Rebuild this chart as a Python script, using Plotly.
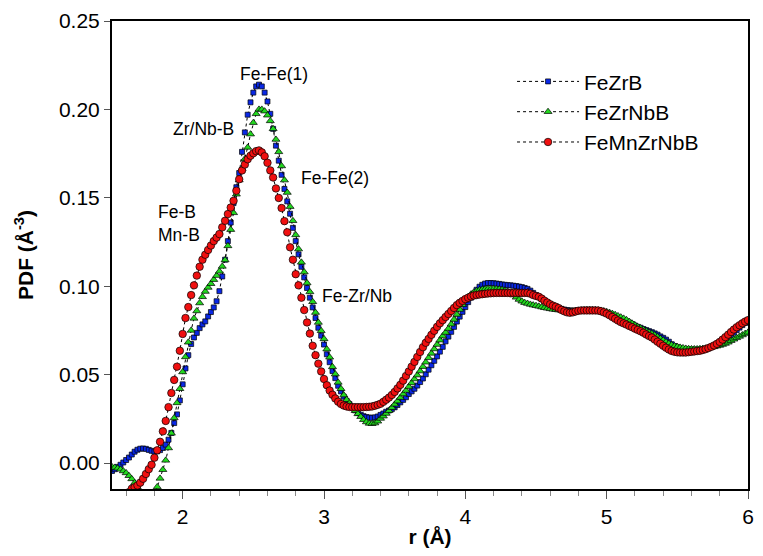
import plotly.graph_objects as go

# r grid (0.02 A step, 1.50 .. 6.00)
r = [round(1.5 + 0.02 * i, 2) for i in range(226)]

fezrb = [
    -0.0045, -0.0035, -0.0022, -0.0010, 0.0003, 0.0017, 0.0031, 0.0048, 0.0064, 0.0075,
    0.0081, 0.0082, 0.0080, 0.0074, 0.0069, 0.0065, 0.0066, 0.0073, 0.0085, 0.0104,
    0.0132, 0.0170, 0.0226, 0.0275, 0.0354, 0.0445, 0.0535, 0.0610, 0.0673, 0.0710,
    0.0736, 0.0763, 0.0784, 0.0801, 0.0829, 0.0854, 0.0880, 0.0915, 0.0972, 0.1055,
    0.1150, 0.1255, 0.1360, 0.1470, 0.1560, 0.1640, 0.1760, 0.1870, 0.1970, 0.2040,
    0.2095, 0.2130, 0.2140, 0.2130, 0.2095, 0.2045, 0.1975, 0.1890, 0.1795, 0.1710,
    0.1630, 0.1550, 0.1480, 0.1410, 0.1330, 0.1255, 0.1180, 0.1110, 0.1050, 0.0990,
    0.0935, 0.0880, 0.0820, 0.0765, 0.0720, 0.0670, 0.0615, 0.0570, 0.0520, 0.0480,
    0.0437, 0.0405, 0.0375, 0.0352, 0.0333, 0.0315, 0.0298, 0.0283, 0.0273, 0.0265,
    0.0260, 0.0257, 0.0256, 0.0258, 0.0263, 0.0272, 0.0280, 0.0290, 0.0297, 0.0305,
    0.0315, 0.0328, 0.0343, 0.0357, 0.0372, 0.0390, 0.0405, 0.0420, 0.0438, 0.0458,
    0.0478, 0.0502, 0.0528, 0.0553, 0.0578, 0.0603, 0.0630, 0.0657, 0.0688, 0.0715,
    0.0742, 0.0770, 0.0800, 0.0828, 0.0855, 0.0882, 0.0910, 0.0935, 0.0958, 0.0980,
    0.0997, 0.1008, 0.1015, 0.1018, 0.1018, 0.1017, 0.1015, 0.1013, 0.1010, 0.1008,
    0.1006, 0.1005, 0.1003, 0.1001, 0.0998, 0.0995, 0.0990, 0.0985, 0.0975, 0.0962,
    0.0950, 0.0940, 0.0928, 0.0915, 0.0905, 0.0897, 0.0890, 0.0884, 0.0878, 0.0872,
    0.0868, 0.0865, 0.0863, 0.0862, 0.0862, 0.0863, 0.0864, 0.0865, 0.0866, 0.0866,
    0.0866, 0.0865, 0.0863, 0.0860, 0.0855, 0.0848, 0.0842, 0.0835, 0.0828, 0.0820,
    0.0812, 0.0806, 0.0800, 0.0794, 0.0786, 0.0778, 0.0770, 0.0765, 0.0758, 0.0752,
    0.0746, 0.0740, 0.0733, 0.0726, 0.0716, 0.0708, 0.0698, 0.0686, 0.0672, 0.0662,
    0.0654, 0.0648, 0.0645, 0.0643, 0.0642, 0.0641, 0.0641, 0.0641, 0.0642, 0.0644,
    0.0647, 0.0651, 0.0656, 0.0663, 0.0670, 0.0678, 0.0688, 0.0698, 0.0710, 0.0722,
    0.0737, 0.0752, 0.0766, 0.0780, 0.0792, 0.0803,
]

fezrnbb = [
    -0.0022, -0.0025, -0.0030, -0.0036, -0.0045, -0.0056, -0.0072, -0.0090, -0.0112, -0.0138,
    -0.0165, -0.0190, -0.0210, -0.0220, -0.0210, -0.0175, -0.0135, -0.0087, -0.0038, 0.0015,
    0.0085, 0.0168, 0.0255, 0.0340, 0.0420, 0.0515, 0.0600, 0.0683, 0.0750, 0.0818,
    0.0860, 0.0905, 0.0940, 0.0970, 0.0993, 0.1014, 0.1037, 0.1060, 0.1084, 0.1112,
    0.1148, 0.1228, 0.1320, 0.1415, 0.1520, 0.1600, 0.1665, 0.1720, 0.1785, 0.1860,
    0.1925, 0.1975, 0.2000, 0.2000, 0.1990, 0.1967, 0.1935, 0.1890, 0.1830, 0.1760,
    0.1680, 0.1600, 0.1530, 0.1450, 0.1370, 0.1290, 0.1210, 0.1135, 0.1080, 0.1018,
    0.0968, 0.0912, 0.0851, 0.0795, 0.0748, 0.0702, 0.0644, 0.0598, 0.0544, 0.0503,
    0.0456, 0.0420, 0.0384, 0.0358, 0.0338, 0.0316, 0.0296, 0.0278, 0.0262, 0.0245,
    0.0232, 0.0224, 0.0222, 0.0226, 0.0236, 0.0252, 0.0265, 0.0280, 0.0296, 0.0313,
    0.0332, 0.0350, 0.0370, 0.0390, 0.0410, 0.0432, 0.0453, 0.0475, 0.0497, 0.0520,
    0.0545, 0.0570, 0.0595, 0.0620, 0.0645, 0.0670, 0.0695, 0.0718, 0.0738, 0.0760,
    0.0785, 0.0812, 0.0840, 0.0868, 0.0895, 0.0920, 0.0940, 0.0955, 0.0966, 0.0974,
    0.0979, 0.0982, 0.0984, 0.0985, 0.0985, 0.0985, 0.0984, 0.0983, 0.0980, 0.0976,
    0.0970, 0.0962, 0.0950, 0.0937, 0.0925, 0.0915, 0.0907, 0.0902, 0.0897, 0.0893,
    0.0890, 0.0886, 0.0882, 0.0878, 0.0875, 0.0872, 0.0869, 0.0867, 0.0865, 0.0863,
    0.0860, 0.0858, 0.0858, 0.0859, 0.0861, 0.0863, 0.0864, 0.0865, 0.0866, 0.0866,
    0.0866, 0.0866, 0.0865, 0.0863, 0.0860, 0.0856, 0.0851, 0.0845, 0.0839, 0.0832,
    0.0825, 0.0818, 0.0810, 0.0800, 0.0790, 0.0780, 0.0771, 0.0763, 0.0755, 0.0747,
    0.0739, 0.0732, 0.0724, 0.0714, 0.0704, 0.0695, 0.0685, 0.0676, 0.0668, 0.0662,
    0.0658, 0.0654, 0.0651, 0.0648, 0.0646, 0.0645, 0.0645, 0.0645, 0.0646, 0.0647,
    0.0649, 0.0651, 0.0654, 0.0657, 0.0661, 0.0665, 0.0670, 0.0676, 0.0683, 0.0692,
    0.0700, 0.0708, 0.0716, 0.0724, 0.0732, 0.0739,
]

femnzrnbb = [
    -0.0300, -0.0280, -0.0260, -0.0230, -0.0210, -0.0190, -0.0165, -0.0145, -0.0137, -0.0127,
    -0.0111, -0.0089, -0.0062, -0.0035, -0.0010, 0.0030, 0.0072, 0.0120, 0.0179, 0.0238,
    0.0316, 0.0396, 0.0470, 0.0545, 0.0635, 0.0730, 0.0820, 0.0882, 0.0950, 0.1005,
    0.1060, 0.1110, 0.1150, 0.1178, 0.1205, 0.1230, 0.1255, 0.1275, 0.1295, 0.1333,
    0.1370, 0.1408, 0.1445, 0.1483, 0.1540, 0.1605, 0.1655, 0.1688, 0.1718, 0.1738,
    0.1752, 0.1764, 0.1768, 0.1757, 0.1735, 0.1698, 0.1655, 0.1615, 0.1553, 0.1499,
    0.1442, 0.1368, 0.1305, 0.1220, 0.1150, 0.1068, 0.1005, 0.0935, 0.0865, 0.0795,
    0.0732, 0.0663, 0.0610, 0.0562, 0.0518, 0.0475, 0.0440, 0.0410, 0.0386, 0.0365,
    0.0347, 0.0334, 0.0325, 0.0320, 0.0317, 0.0316, 0.0316, 0.0316, 0.0316, 0.0316,
    0.0317, 0.0318, 0.0320, 0.0324, 0.0329, 0.0335, 0.0346, 0.0358, 0.0370, 0.0385,
    0.0402, 0.0422, 0.0442, 0.0466, 0.0492, 0.0518, 0.0545, 0.0572, 0.0600, 0.0628,
    0.0655, 0.0680, 0.0702, 0.0725, 0.0748, 0.0770, 0.0790, 0.0808, 0.0826, 0.0843,
    0.0860, 0.0877, 0.0893, 0.0906, 0.0917, 0.0927, 0.0935, 0.0942, 0.0947, 0.0950,
    0.0953, 0.0955, 0.0957, 0.0959, 0.0960, 0.0961, 0.0962, 0.0962, 0.0962, 0.0962,
    0.0962, 0.0962, 0.0962, 0.0962, 0.0962, 0.0962, 0.0962, 0.0962, 0.0958, 0.0950,
    0.0945, 0.0940, 0.0930, 0.0918, 0.0908, 0.0898, 0.0890, 0.0884, 0.0876, 0.0866,
    0.0858, 0.0852, 0.0850, 0.0852, 0.0857, 0.0861, 0.0863, 0.0863, 0.0863, 0.0863,
    0.0863, 0.0863, 0.0862, 0.0858, 0.0852, 0.0845, 0.0836, 0.0826, 0.0816, 0.0806,
    0.0797, 0.0790, 0.0783, 0.0775, 0.0768, 0.0760, 0.0753, 0.0745, 0.0737, 0.0727,
    0.0718, 0.0710, 0.0698, 0.0686, 0.0675, 0.0663, 0.0652, 0.0642, 0.0634, 0.0629,
    0.0626, 0.0625, 0.0625, 0.0625, 0.0627, 0.0629, 0.0631, 0.0633, 0.0635, 0.0639,
    0.0644, 0.0650, 0.0657, 0.0665, 0.0674, 0.0685, 0.0698, 0.0712, 0.0726, 0.0741,
    0.0755, 0.0768, 0.0779, 0.0790, 0.0800, 0.0808,
]

series = [
    ("FeZrB", fezrb, "square", "#0a28e6", 5),
    ("FeZrNbB", fezrnbb, "triangle-up", "#22d81e", 7),
    ("FeMnZrNbB", femnzrnbb, "circle", "#f01010", 7.5),
]

peak_labels = ["Fe-Fe(1)", "Zr/Nb-B", "Fe-Fe(2)", "Fe-B<br>Mn-B", "Fe-Zr/Nb"]
label_r = [2.643, 2.146, 3.077, 1.813, 3.232]
label_v = [0.220, 0.189, 0.161, 0.1354, 0.0942]
label_anchor = ["center", "center", "center", "left", "center"]

fig = go.Figure()
for name, vals, sym, col, size in series:
    fig.add_trace(go.Scatter(
        x=r, y=vals, name=name, mode="lines+markers",
        legendgroup=name,
        line=dict(color="black", width=1, dash="dot"),
        marker=dict(symbol=sym, color=col, size=size, line=dict(color="black", width=0.7)),
    ))

for txt, x, y, anc in zip(peak_labels, label_r, label_v, label_anchor):
    fig.add_annotation(x=x, y=y, text=txt, showarrow=False, xanchor=anc, align="left",
                       font=dict(size=17.5, color="black"))

# page body adds 8 px on every side: keep the page inside the window
fig.update_layout(
    width=747, height=540,
    margin=dict(l=104, r=7, t=13, b=59),
    paper_bgcolor="white", plot_bgcolor="white",
    font=dict(family="Liberation Sans, Arial, sans-serif", color="black"),
    showlegend=True,
    legend=dict(x=0.629, y=0.914, xanchor="left", yanchor="top", font=dict(size=21),
                itemwidth=62, tracegroupgap=0, bgcolor="rgba(0,0,0,0)"),
)
fig.update_xaxes(
    range=[1.5, 6], tickvals=[2, 3, 4, 5, 6], ticks="outside", ticklen=8, tickcolor="#555",
    minor=dict(dtick=0.2, ticks="outside", ticklen=5, tickcolor="#888", showgrid=False),
    showline=True, linecolor="black", linewidth=2, mirror=True, showgrid=False, zeroline=False,
    tickfont=dict(size=21), automargin=False,
    title=dict(text="<b>r (Å)</b>", font=dict(size=21), standoff=6),
)
fig.update_yaxes(
    range=[-0.0147, 0.25], tickvals=[0, 0.05, 0.1, 0.15, 0.2, 0.25], tickformat=".2f",
    ticks="outside", ticklen=6, tickcolor="#555",
    showline=True, linecolor="black", linewidth=2, mirror=True, showgrid=False, zeroline=False,
    tickfont=dict(size=21), automargin=False,
    title=dict(text="<b>PDF (Å<sup>-3</sup>)</b>", font=dict(size=21), standoff=20),
)

fig.write_html("out.html")
